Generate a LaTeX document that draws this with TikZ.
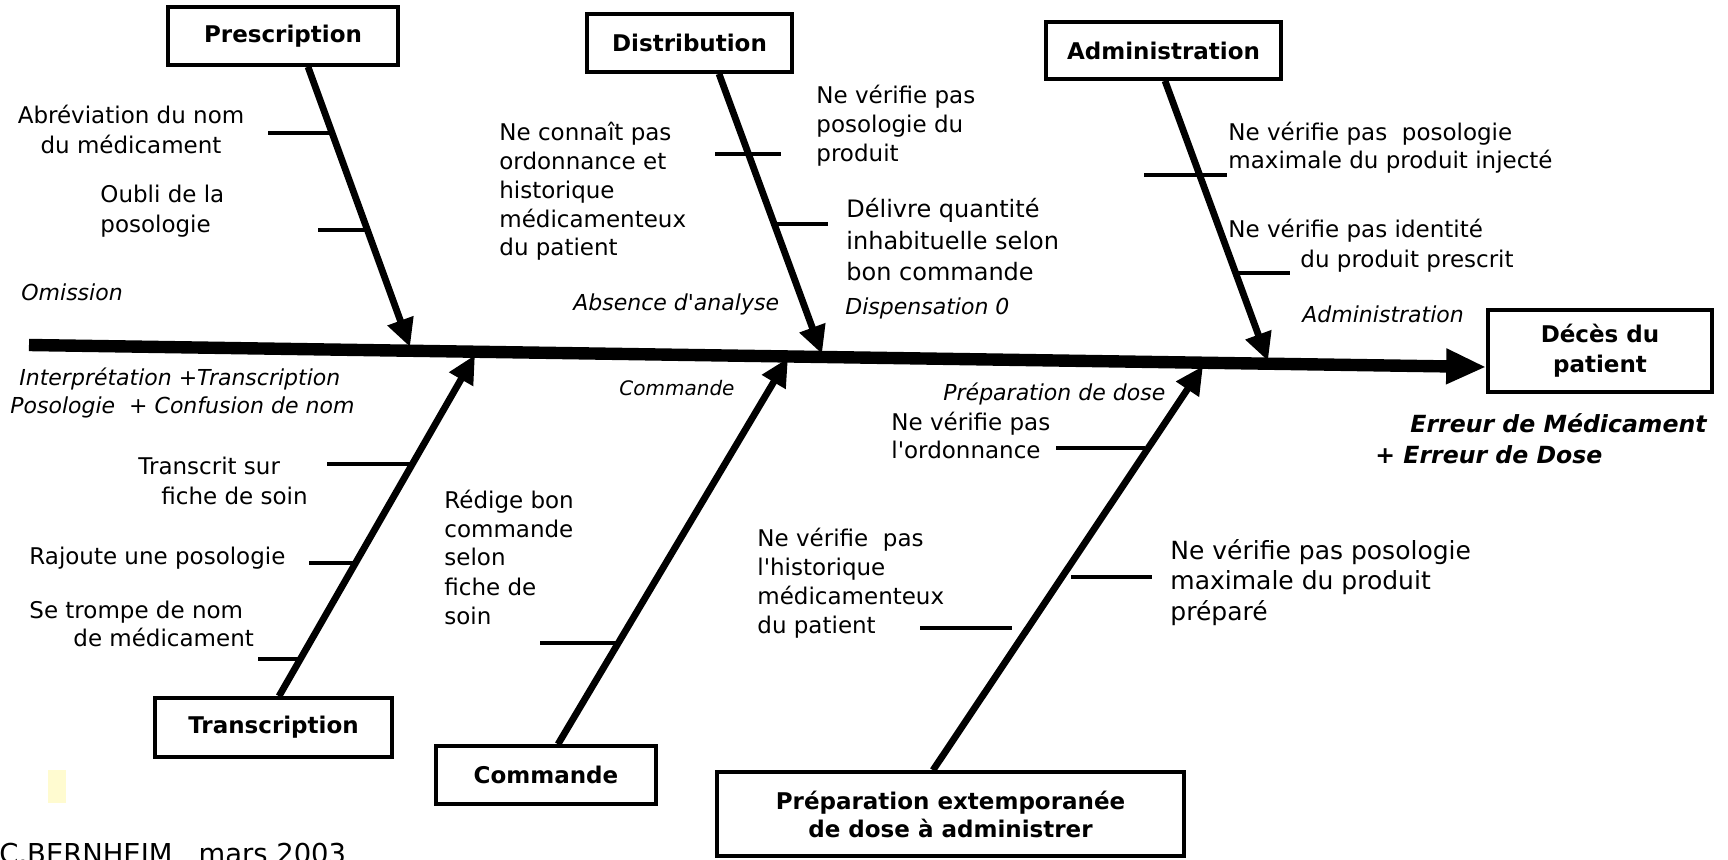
\documentclass[tikz,border=0pt]{standalone}
\usepackage{fontspec}
\setmainfont{DejaVu Sans}
\usetikzlibrary{arrows.meta}
\definecolor{pale}{HTML}{FFFBD0}
\begin{document}
\begin{tikzpicture}[x=0.5pt,y=-0.5pt,
  box/.style={draw,line width=1.8pt,inner sep=0pt,font=\fontsize{11.5}{15}\selectfont\bfseries,align=center},
  txt/.style={anchor=base west,inner sep=0pt,font=\fontsize{11.5}{14.5}\selectfont,align=left},
  cat/.style={anchor=base west,inner sep=0pt,font=\fontsize{11}{14}\selectfont\itshape},
  bi/.style={anchor=base west,inner sep=0pt,font=\fontsize{11.8}{14}\selectfont\bfseries\itshape},
  bone/.style={line width=3.4pt,-{Triangle[length=14pt,width=13pt]}},
  spine/.style={line width=6.2pt,-{Triangle[length=20pt,width=16.5pt]}},
  tick/.style={line width=2.4pt}
]
\useasboundingbox (0,0) rectangle (1728,860);
\fill[white] (0,0) rectangle (1728,860);

% boxes
\node[box,minimum width=115pt,minimum height=29pt] (pre) at (283,36) {Prescription};
\node[box,minimum width=102.5pt,minimum height=29pt] (dis) at (689.5,43) {Distribution};
\node[box,minimum width=117.5pt,minimum height=28.5pt] (adm) at (1163.5,50.5) {Administration};
\node[box,minimum width=112pt,minimum height=41pt] (dec) at (1600,351) {Décès du\\patient};
\node[box,minimum width=118.5pt,minimum height=29.5pt] (tra) at (273.5,727.5) {Transcription};
\node[box,minimum width=110pt,minimum height=29pt] (com) at (546,775) {Commande};
\node[box,minimum width=233.5pt,minimum height=42pt,font=\fontsize{11.5}{14}\selectfont\bfseries] (prep) at (950.5,814) {Préparation extemporanée\\de dose à administrer};

% spine
\coordinate (spL) at (29,345);
\draw[spine] (spL) -- (dec.west |- 0,367);

% bone tips on the spine
\coordinate (tPre) at (410,347);
\coordinate (tDis) at (822,354);
\coordinate (tAdm) at (1268,361);
\coordinate (tTra) at (475,355);
\coordinate (tCom) at (788,358);
\coordinate (tPrep) at (1203,366);

\draw[bone] (pre.south -| 308,0) -- (tPre);
\draw[bone] (dis.south -| 719,0) -- (tDis);
\draw[bone] (adm.south -| 1165,0) -- (tAdm);
\draw[bone] (tra.north -| 279,0) -- (tTra);
\draw[bone] (com.north -| 558,0) -- (tCom);
\draw[bone] (prep.north -| 933,0) -- (tPrep);

% ticks
\draw[tick] (268,133) -- (333,133);
\draw[tick] (318,230) -- (367,230);
\draw[tick] (715,154) -- (781,154);
\draw[tick] (775,224) -- (828,224);
\draw[tick] (1144,175) -- (1227,175);
\draw[tick] (1236,273) -- (1290,273);
\draw[tick] (327,464) -- (413,464);
\draw[tick] (309,563) -- (357,563);
\draw[tick] (258,659) -- (302,659);
\draw[tick] (540,643) -- (619,643);
\draw[tick] (1056,448) -- (1145,448);
\draw[tick] (920,628) -- (1012,628);
\draw[tick] (1071,577) -- (1152,577);

% texts
\node[txt,align=center,anchor=base,font=\fontsize{11.5}{15}\selectfont] (t1) at (131,154) {Abréviation du nom\\du médicament};
\node[txt,font=\fontsize{11.5}{15}\selectfont] (t2) at (100,233) {Oubli de la\\posologie};
\node[cat] (c1) at (21,301) {Omission};
\node[txt,font=\fontsize{11.5}{14.4}\selectfont] (t3) at (499,256) {Ne connaît pas\\ordonnance et\\historique\\médicamenteux\\du patient};
\node[txt] (t4) at (816,162) {Ne vérifie pas\\posologie du\\produit};
\node[txt,font=\fontsize{12}{15.75}\selectfont] (t5) at (846,281) {Délivre quantité\\inhabituelle selon\\bon commande};
\node[cat] (c2) at (573,311) {Absence d\textquotesingle analyse};
\node[cat] (c3) at (845,315) {Dispensation 0};
\node[txt,font=\fontsize{11.5}{14}\selectfont] (t6) at (1228,169) {Ne vérifie pas\ \ posologie\\maximale du produit injecté};
\node[txt] (t7) at (1228,238) {Ne vérifie pas identité};
\node[txt] (t8) at (1300,268) {du produit prescrit};
\node[cat] (c4) at (1302,323) {Administration};
\node[bi] (e1) at (1410,433) {Erreur de Médicament};
\node[bi] (e2) at (1375,464) {+ Erreur de Dose};
\node[cat] (c5) at (19,386) {Interprétation +Transcription};
\node[cat] (c6) at (10,414) {Posologie\ \ + Confusion de nom};
\node[txt] (t9) at (138,474) {Transcrit sur};
\node[txt] (t10) at (161,504) {fiche de soin};
\node[txt] (t11) at (29,564) {Rajoute une posologie};
\node[txt] (t12) at (29,618) {Se trompe de nom};
\node[txt] (t13) at (73,646) {de médicament};
\node[cat,font=\fontsize{10}{14}\selectfont\itshape] (c7) at (619,396) {Commande};
\node[txt] (t14) at (444,624) {Rédige bon\\commande\\selon\\fiche de\\soin};
\node[cat] (c8) at (943,401) {Préparation de dose};
\node[txt,font=\fontsize{11.5}{14}\selectfont] (t15) at (891,459) {Ne vérifie pas\\l\textquotesingle ordonnance};
\node[txt] (t16) at (757,633) {Ne vérifie\ \ pas\\l\textquotesingle historique\\médicamenteux\\du patient};
\node[txt,font=\fontsize{12.5}{15.25}\selectfont] (t17) at (1170,620) {Ne vérifie pas posologie\\maximale du produit\\préparé};
\node[txt,font=\fontsize{13.7}{16}\selectfont] (t18) at (-1,863) {C.BERNHEIM\ \ \ mars 2003};

\fill[pale] (48,770) rectangle (66,803);
\end{tikzpicture}
\end{document}
